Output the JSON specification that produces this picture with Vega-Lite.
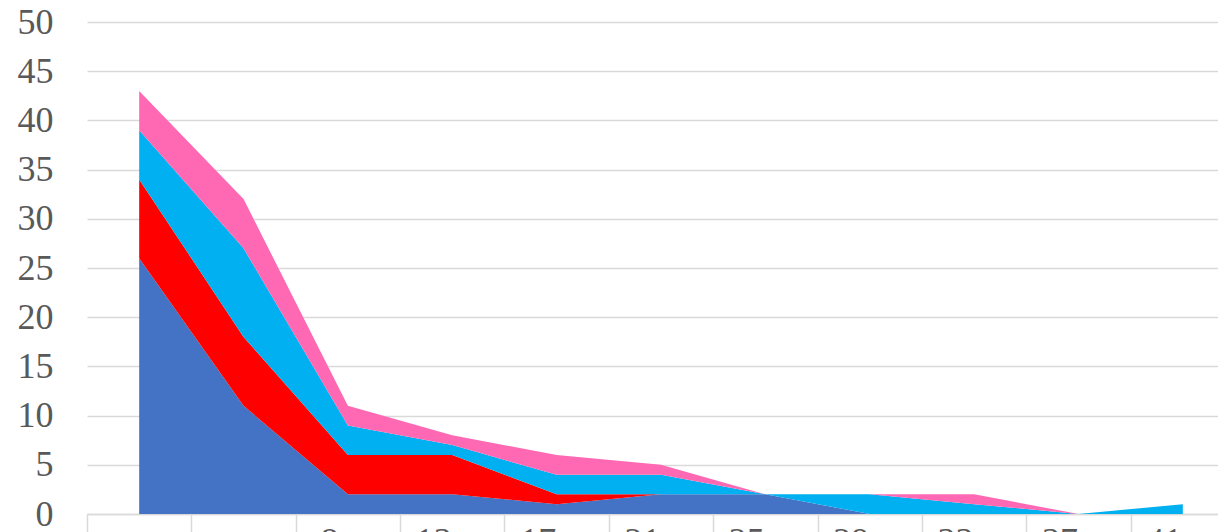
{
  "$schema": "https://vega.github.io/schema/vega-lite/v6.json",
  "autosize": {"type": "none"},
  "padding": {"left": 87, "top": 22, "right": 0, "bottom": 40},
  "width": 1148,
  "height": 492,
  "background": "white",
  "config": {"view": {"stroke": null}},
  "data": {
    "values": [
      {"cat": "c1", "s": "A", "o": 1, "v": 26}, {"cat": "c1", "s": "B", "o": 2, "v": 8}, {"cat": "c1", "s": "C", "o": 3, "v": 5}, {"cat": "c1", "s": "D", "o": 4, "v": 4},
      {"cat": "c2", "s": "A", "o": 1, "v": 11}, {"cat": "c2", "s": "B", "o": 2, "v": 7}, {"cat": "c2", "s": "C", "o": 3, "v": 9}, {"cat": "c2", "s": "D", "o": 4, "v": 5},
      {"cat": "8", "s": "A", "o": 1, "v": 2}, {"cat": "8", "s": "B", "o": 2, "v": 4}, {"cat": "8", "s": "C", "o": 3, "v": 3}, {"cat": "8", "s": "D", "o": 4, "v": 2},
      {"cat": "13", "s": "A", "o": 1, "v": 2}, {"cat": "13", "s": "B", "o": 2, "v": 4}, {"cat": "13", "s": "C", "o": 3, "v": 1}, {"cat": "13", "s": "D", "o": 4, "v": 1},
      {"cat": "17", "s": "A", "o": 1, "v": 1}, {"cat": "17", "s": "B", "o": 2, "v": 1}, {"cat": "17", "s": "C", "o": 3, "v": 2}, {"cat": "17", "s": "D", "o": 4, "v": 2},
      {"cat": "21", "s": "A", "o": 1, "v": 2}, {"cat": "21", "s": "B", "o": 2, "v": 0}, {"cat": "21", "s": "C", "o": 3, "v": 2}, {"cat": "21", "s": "D", "o": 4, "v": 1},
      {"cat": "25", "s": "A", "o": 1, "v": 2}, {"cat": "25", "s": "B", "o": 2, "v": 0}, {"cat": "25", "s": "C", "o": 3, "v": 0}, {"cat": "25", "s": "D", "o": 4, "v": 0},
      {"cat": "29", "s": "A", "o": 1, "v": 0}, {"cat": "29", "s": "B", "o": 2, "v": 0}, {"cat": "29", "s": "C", "o": 3, "v": 2}, {"cat": "29", "s": "D", "o": 4, "v": 0},
      {"cat": "33", "s": "A", "o": 1, "v": 0}, {"cat": "33", "s": "B", "o": 2, "v": 0}, {"cat": "33", "s": "C", "o": 3, "v": 1}, {"cat": "33", "s": "D", "o": 4, "v": 1},
      {"cat": "37", "s": "A", "o": 1, "v": 0}, {"cat": "37", "s": "B", "o": 2, "v": 0}, {"cat": "37", "s": "C", "o": 3, "v": 0}, {"cat": "37", "s": "D", "o": 4, "v": 0},
      {"cat": "41", "s": "A", "o": 1, "v": 0}, {"cat": "41", "s": "B", "o": 2, "v": 0}, {"cat": "41", "s": "C", "o": 3, "v": 1}, {"cat": "41", "s": "D", "o": 4, "v": 0}
    ]
  },
  "mark": {"type": "area", "interpolate": "linear"},
  "encoding": {
    "x": {
      "field": "cat",
      "type": "ordinal",
      "sort": null,
      "bandPosition": 0.5,
      "scale": {"type": "band", "paddingInner": 0, "paddingOuter": 0},
      "axis": {
        "title": null,
        "tickBand": "extent",
        "labelAngle": 0,
        "labelExpr": "datum.value == 'c1' || datum.value == 'c2' ? '' : datum.value",
        "labelFont": "Liberation Serif",
        "labelFontSize": 36,
        "labelColor": "#595959",
        "labelPadding": -9.6,
        "labelOffset": -19,
        "tickSize": 20,
        "tickColor": "#d9d9d9",
        "tickWidth": 1.5,
        "domainColor": "#d9d9d9",
        "domainWidth": 1.5,
        "grid": false
      }
    },
    "y": {
      "field": "v",
      "type": "quantitative",
      "stack": "zero",
      "scale": {"domain": [0, 50], "nice": false},
      "axis": {
        "title": null,
        "values": [0, 5, 10, 15, 20, 25, 30, 35, 40, 45, 50],
        "domain": false,
        "ticks": false,
        "grid": true,
        "gridColor": "#d9d9d9",
        "gridWidth": 1.5,
        "labelFont": "Liberation Serif",
        "labelFontSize": 36,
        "labelColor": "#595959",
        "labelPadding": 34
      }
    },
    "color": {
      "field": "s",
      "type": "nominal",
      "scale": {"domain": ["A", "B", "C", "D"], "range": ["#4472C4", "#FF0000", "#00B0F0", "#FF69B4"]},
      "legend": null
    },
    "order": {"field": "o", "type": "quantitative"}
  }
}
